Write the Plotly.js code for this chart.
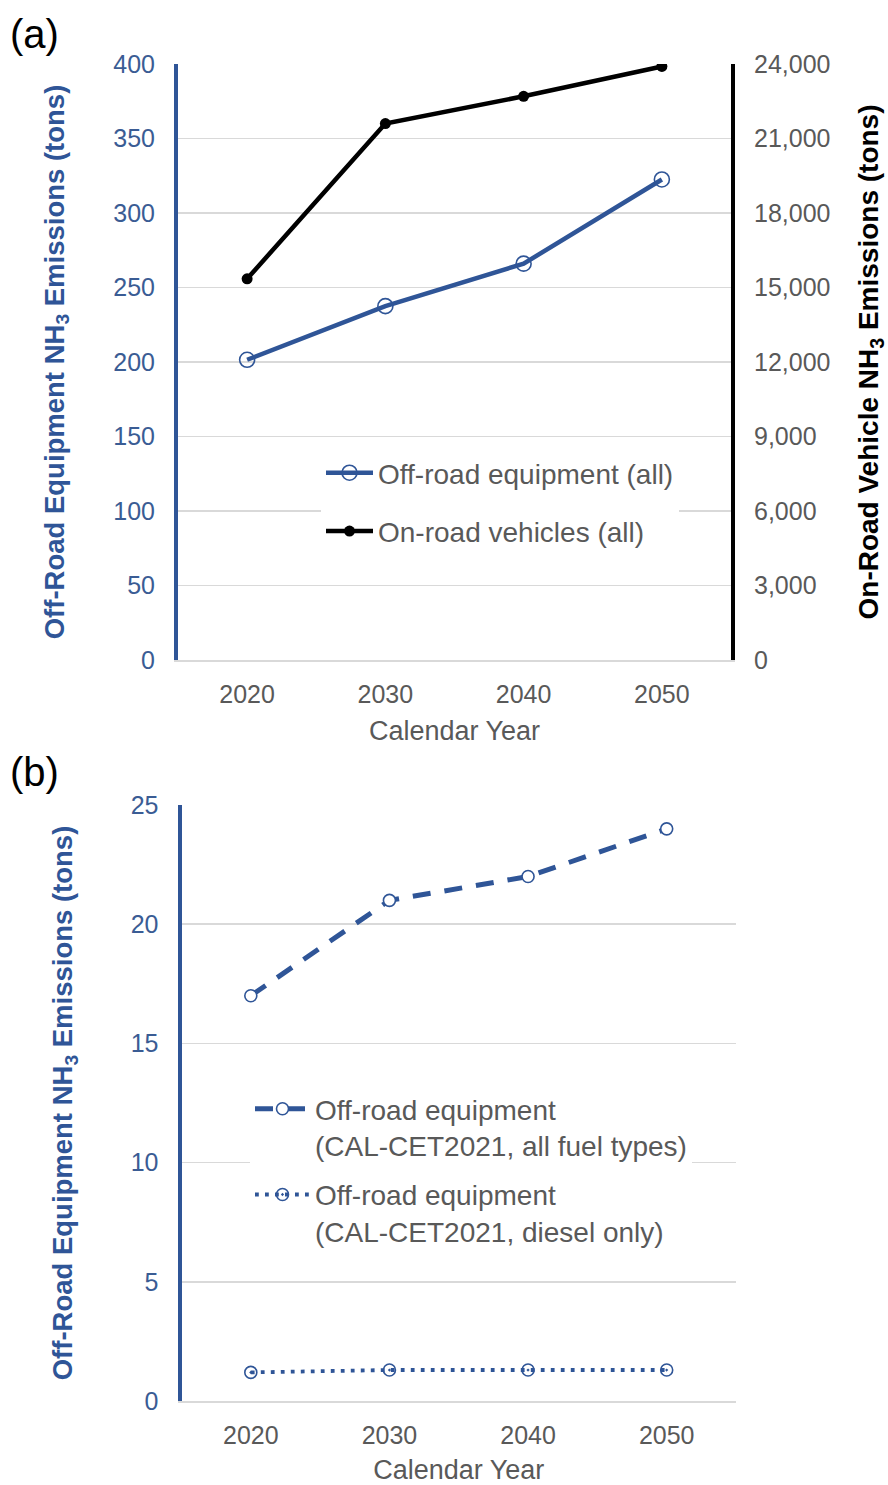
<!DOCTYPE html>
<html>
<head>
<meta charset="utf-8">
<script src="https://cdn.plot.ly/plotly-3.0.1.min.js"></script>
<style>html,body{margin:0;padding:0;background:#fff;}#chart{width:888px;height:1485px;}</style>
</head>
<body>
<div id="chart"></div>
<script>
// ---- data ----
const years = ['2020', '2030', '2040', '2050'];
const offroadAll = [201.5, 237.5, 266, 322.5];          // tons, left axis (a)
const onroadAll = [15350, 21600, 22700, 23900];         // tons, right axis (a)
const cetAllFuel = [17, 21, 22, 24];                    // tons (b)
const cetDiesel = [1.2, 1.3, 1.3, 1.3];                 // tons (b)
const namesA = ['Off-road equipment (all)', 'On-road vehicles (all)'];
const namesB = ['Off-road equipment<br>(CAL-CET2021, all fuel types)', 'Off-road equipment<br>(CAL-CET2021, diesel only)'];

const BLUE = '#2F5597';
const TICKBLUE = '#3A5C94';
const GRAY = '#595959';
const GRID = '#D9D9D9';
const FONT = 'Liberation Sans, Arial, sans-serif';
const W = 888, H = 1485;
const px = v => v / W;
const py = v => 1 - v / H;

const traces = [
  {x: years, y: offroadAll, name: namesA[0], type: 'scatter', mode: 'lines+markers',
   xaxis: 'x', yaxis: 'y', legend: 'legend', legendgroup: 'a1',
   line: {color: BLUE, width: 4.5},
   marker: {symbol: 'circle-open', size: 15, color: BLUE, line: {width: 1.6, color: BLUE}}},
  {x: years, y: onroadAll, name: namesA[1], type: 'scatter', mode: 'lines+markers',
   xaxis: 'x', yaxis: 'y2', legend: 'legend', legendgroup: 'a2',
   line: {color: '#000000', width: 4.5},
   marker: {symbol: 'circle', size: 11, color: '#000000'}},
  {x: years, y: cetAllFuel, name: namesB[0], type: 'scatter', mode: 'lines+markers',
   xaxis: 'x2', yaxis: 'y3', legend: 'legend2', legendgroup: 'b1',
   line: {color: BLUE, width: 5, dash: '18px,14px'},
   marker: {symbol: 'circle', size: 12, color: '#ffffff', line: {width: 1.6, color: BLUE}}},
  {x: years, y: cetDiesel, name: namesB[1], type: 'scatter', mode: 'lines+markers',
   xaxis: 'x2', yaxis: 'y3', legend: 'legend2', legendgroup: 'b2',
   line: {color: BLUE, width: 3.8, dash: '3.8px,6.2px'},
   marker: {symbol: 'circle-open-dot', size: 12, color: BLUE, line: {width: 1.6, color: BLUE}}}
];

const tickFont = {family: FONT, size: 25, color: GRAY};
const xCommon = {
  type: 'category', range: [-0.5, 3.5], showgrid: false, zeroline: false,
  showline: true, linecolor: GRID, linewidth: 1.5, ticks: '', ticklabelstandoff: 11,
  tickfont: tickFont, fixedrange: true
};

const layout = {
  width: W, height: H,
  margin: {l: 0, r: 0, t: 0, b: 0},
  paper_bgcolor: '#ffffff', plot_bgcolor: '#ffffff',
  font: {family: FONT},
  showlegend: true,
  xaxis: Object.assign({}, xCommon, {
    domain: [px(178), px(731)], anchor: 'y',
    title: {text: 'Calendar Year', font: {family: FONT, size: 27, color: GRAY}, standoff: 14}
  }),
  yaxis: {
    domain: [py(660), py(64)], anchor: 'x', range: [0, 400], dtick: 50,
    showgrid: true, gridcolor: GRID, gridwidth: 1.5, zeroline: false,
    showline: true, linecolor: BLUE, linewidth: 4, ticks: '', ticklabelstandoff: 14,
    tickfont: {family: FONT, size: 25, color: TICKBLUE},
    title: {text: '<b>Off-Road Equipment NH<sub>3</sub> Emissions (tons)</b>', font: {family: FONT, size: 27.5, color: BLUE}, standoff: 42}
  },
  yaxis2: {
    overlaying: 'y', side: 'right', anchor: 'x', range: [0, 24000], dtick: 3000, tickformat: ',',
    showgrid: false, zeroline: false,
    showline: true, linecolor: '#000000', linewidth: 4, ticks: '', ticklabelstandoff: 14,
    tickfont: tickFont,
    title: {text: '<b>On-Road Vehicle NH<sub>3</sub> Emissions (tons)</b>', font: {family: FONT, size: 28, color: '#000000'}, standoff: 31}
  },
  xaxis2: Object.assign({}, xCommon, {
    domain: [px(181.5), px(736)], anchor: 'y3',
    title: {text: 'Calendar Year', font: {family: FONT, size: 27, color: GRAY}, standoff: 16}
  }),
  yaxis3: {
    domain: [py(1401), py(805)], anchor: 'x2', range: [0, 25], dtick: 5,
    showgrid: true, gridcolor: GRID, gridwidth: 1.5, zeroline: false,
    showline: true, linecolor: BLUE, linewidth: 4, ticks: '', ticklabelstandoff: 14,
    tickfont: {family: FONT, size: 25, color: TICKBLUE},
    title: {text: '<b>Off-Road Equipment NH<sub>3</sub> Emissions (tons)</b>', font: {family: FONT, size: 27.5, color: BLUE}, standoff: 51}
  },
  legend: {
    x: px(321), y: py(448), xanchor: 'left', yanchor: 'top', xref: 'paper', yref: 'paper',
    bgcolor: '#ffffff', borderwidth: 0, traceorder: 'grouped', tracegroupgap: 19,
    font: {family: FONT, size: 28, color: GRAY}, itemwidth: 47
  },
  legend2: {
    x: px(250), y: py(1084), xanchor: 'left', yanchor: 'top', xref: 'paper', yref: 'paper',
    bgcolor: '#ffffff', borderwidth: 0, traceorder: 'grouped', tracegroupgap: 10, valign: 'top',
    font: {family: FONT, size: 28, color: GRAY}, itemwidth: 55
  },
  annotations: [
    {text: '(a)', xref: 'paper', yref: 'paper', x: px(8), y: py(34), xanchor: 'left', yanchor: 'middle',
     showarrow: false, font: {family: FONT, size: 40, color: '#000000'}},
    {text: '(b)', xref: 'paper', yref: 'paper', x: px(8), y: py(772), xanchor: 'left', yanchor: 'middle',
     showarrow: false, font: {family: FONT, size: 40, color: '#000000'}}
  ]
};

Plotly.newPlot('chart', traces, layout, {displayModeBar: false, staticPlot: true});
</script>
</body>
</html>
